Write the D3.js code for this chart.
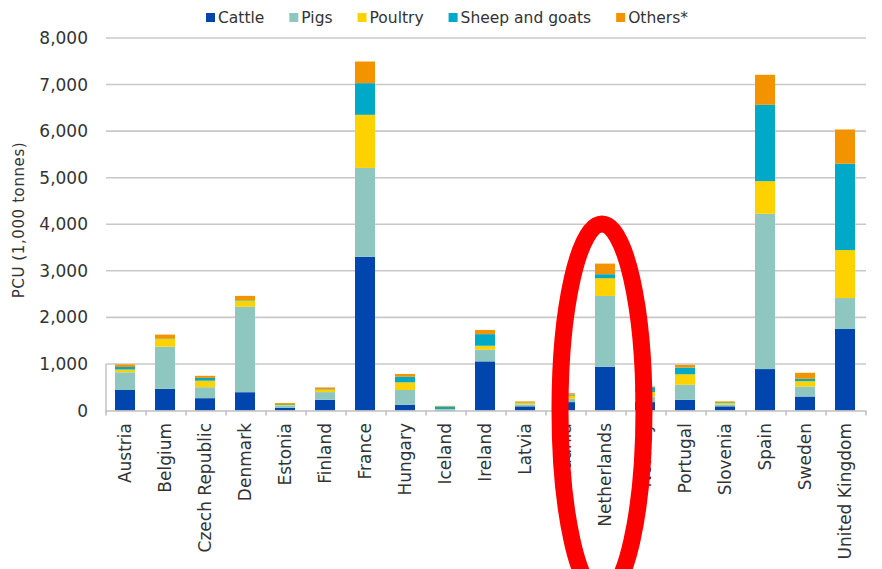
<!DOCTYPE html>
<html>
<head>
<meta charset="utf-8">
<script src="https://cdn.jsdelivr.net/npm/d3@7"></script>
<style>
  html, body { margin: 0; padding: 0; background: #fff; }
  svg { display: block; font-family: "DejaVu Sans", Verdana, sans-serif; }
</style>
</head>
<body>
<svg id="chart" width="882" height="569"></svg>
<script>
const categories = ["Austria","Belgium","Czech Republic","Denmark","Estonia","Finland","France","Hungary","Iceland","Ireland","Latvia","Lithuania","Netherlands","Norway","Portugal","Slovenia","Spain","Sweden","United Kingdom"];
const seriesNames = ["Cattle","Pigs","Poultry","Sheep and goats","Others*"];
const cattle  = [440, 465, 265, 393, 60, 230, 3300, 125, 15, 1055, 90, 180, 940, 180, 228, 90, 890, 300, 1750];
const pigs    = [380, 905, 235, 1834, 40, 165, 1910, 315, 10, 250, 40, 70, 1520, 120, 325, 40, 3335, 215, 665];
const poultry = [60, 165, 140, 135, 25, 50, 1140, 165, 5, 85, 35, 70, 380, 93, 225, 35, 700, 115, 1030];
const sheep   = [55, 10, 60, 10, 15, 10, 680, 120, 55, 250, 10, 20, 87, 107, 145, 15, 1640, 50, 1855];
const others  = [55, 85, 45, 90, 20, 40, 465, 60, 15, 90, 20, 30, 228, 15, 57, 15, 645, 130, 735];
const yTicks = [0,1000,2000,3000,4000,5000,6000,7000,8000];
const colors = ["#0046ad","#8ec7bf","#fdd200","#00a9c7","#f29300"];
const yTitle = "PCU (1,000 tonnes)";

(function () {
const seriesValues = [cattle, pigs, poultry, sheep, others];
const rows = categories.map((c, i) => {
  const r = {category: c};
  seriesNames.forEach((s, j) => r[s] = seriesValues[j][i]);
  return r;
});

const svg = d3.select("#chart");
const pLeft = 105, pRight = 865, pTop = 38, pBottom = 410.5;

const x = d3.scaleBand().domain(categories).range([pLeft, pRight]).paddingInner(0.5).paddingOuter(0.25);
const y = d3.scaleLinear().domain([0, 8000]).range([pBottom, pTop]);

// gridlines
svg.append("g").selectAll("line").data(yTicks.filter(d => d > 0)).join("line")
  .attr("x1", pLeft + 1).attr("x2", pRight + 1)
  .attr("y1", d => y(d)).attr("y2", d => y(d))
  .attr("stroke", "#c8c8c8").attr("stroke-width", 1.6);

// y tick labels
svg.append("g").selectAll("text").data(yTicks).join("text")
  .attr("x", 88).attr("y", d => y(d)).attr("dy", "0.36em")
  .attr("text-anchor", "end").attr("font-size", 17).attr("fill", "#333")
  .text(d => d3.format(",")(d));

// short left axis segment
svg.append("line").attr("x1", pLeft + 1).attr("x2", pLeft + 1)
  .attr("y1", y(1000)).attr("y2", pBottom + 1)
  .attr("stroke", "#c8c8c8").attr("stroke-width", 1.6);

// stacked bars
const stacked = d3.stack().keys(seriesNames)(rows);
svg.append("g").selectAll("g").data(stacked).join("g")
  .attr("fill", (d, i) => colors[i])
  .selectAll("rect").data(d => d).join("rect")
  .attr("x", d => x(d.data.category))
  .attr("width", x.bandwidth())
  .attr("y", d => y(d[1]))
  .attr("height", d => Math.max(0, y(d[0]) - y(d[1])));

// x axis line and ticks
svg.append("line").attr("x1", pLeft).attr("x2", pRight + 1)
  .attr("y1", pBottom + 0.5).attr("y2", pBottom + 0.5)
  .attr("stroke", "#c0c0c0").attr("stroke-width", 1.6);
const step = x.step();
const tickPos = d3.range(categories.length + 1).map(i => x(categories[0]) - x.paddingOuter() * step + i * step);
svg.append("g").selectAll("line").data(tickPos).join("line")
  .attr("x1", d => d + 1).attr("x2", d => d + 1)
  .attr("y1", pBottom).attr("y2", pBottom + 5)
  .attr("stroke", "#c0c0c0").attr("stroke-width", 1.6);

// x labels
svg.append("g").selectAll("text").data(categories).join("text")
  .attr("transform", d => `translate(${x(d) + x.bandwidth() / 2 + 6},423) rotate(-90)`)
  .attr("text-anchor", "end").attr("font-size", 17).attr("fill", "#333")
  .text(d => d);

// y title
svg.append("text")
  .attr("transform", "translate(24,220) rotate(-90)")
  .attr("text-anchor", "middle").attr("font-size", 15).attr("fill", "#333")
  .attr("letter-spacing", 0.6)
  .text(yTitle);

// legend
const legend = svg.append("g");
let lx = 206;
seriesNames.forEach((s, i) => {
  legend.append("rect").attr("x", lx).attr("y", 13).attr("width", 9).attr("height", 9).attr("fill", colors[i]);
  const t = legend.append("text").attr("x", lx + 12).attr("y", 23)
    .attr("font-size", 15.5).attr("fill", "#333").text(s);
  lx += 12 + t.node().getComputedTextLength() + 25;
});

// red highlight ellipse (annotation)
svg.append("ellipse")
  .attr("cx", x("Netherlands") + x.bandwidth() / 2 - 3).attr("cy", 410)
  .attr("rx", 42).attr("ry", 186)
  .attr("fill", "none").attr("stroke", "#ff0000").attr("stroke-width", 17);
})();
</script>
</body>
</html>
